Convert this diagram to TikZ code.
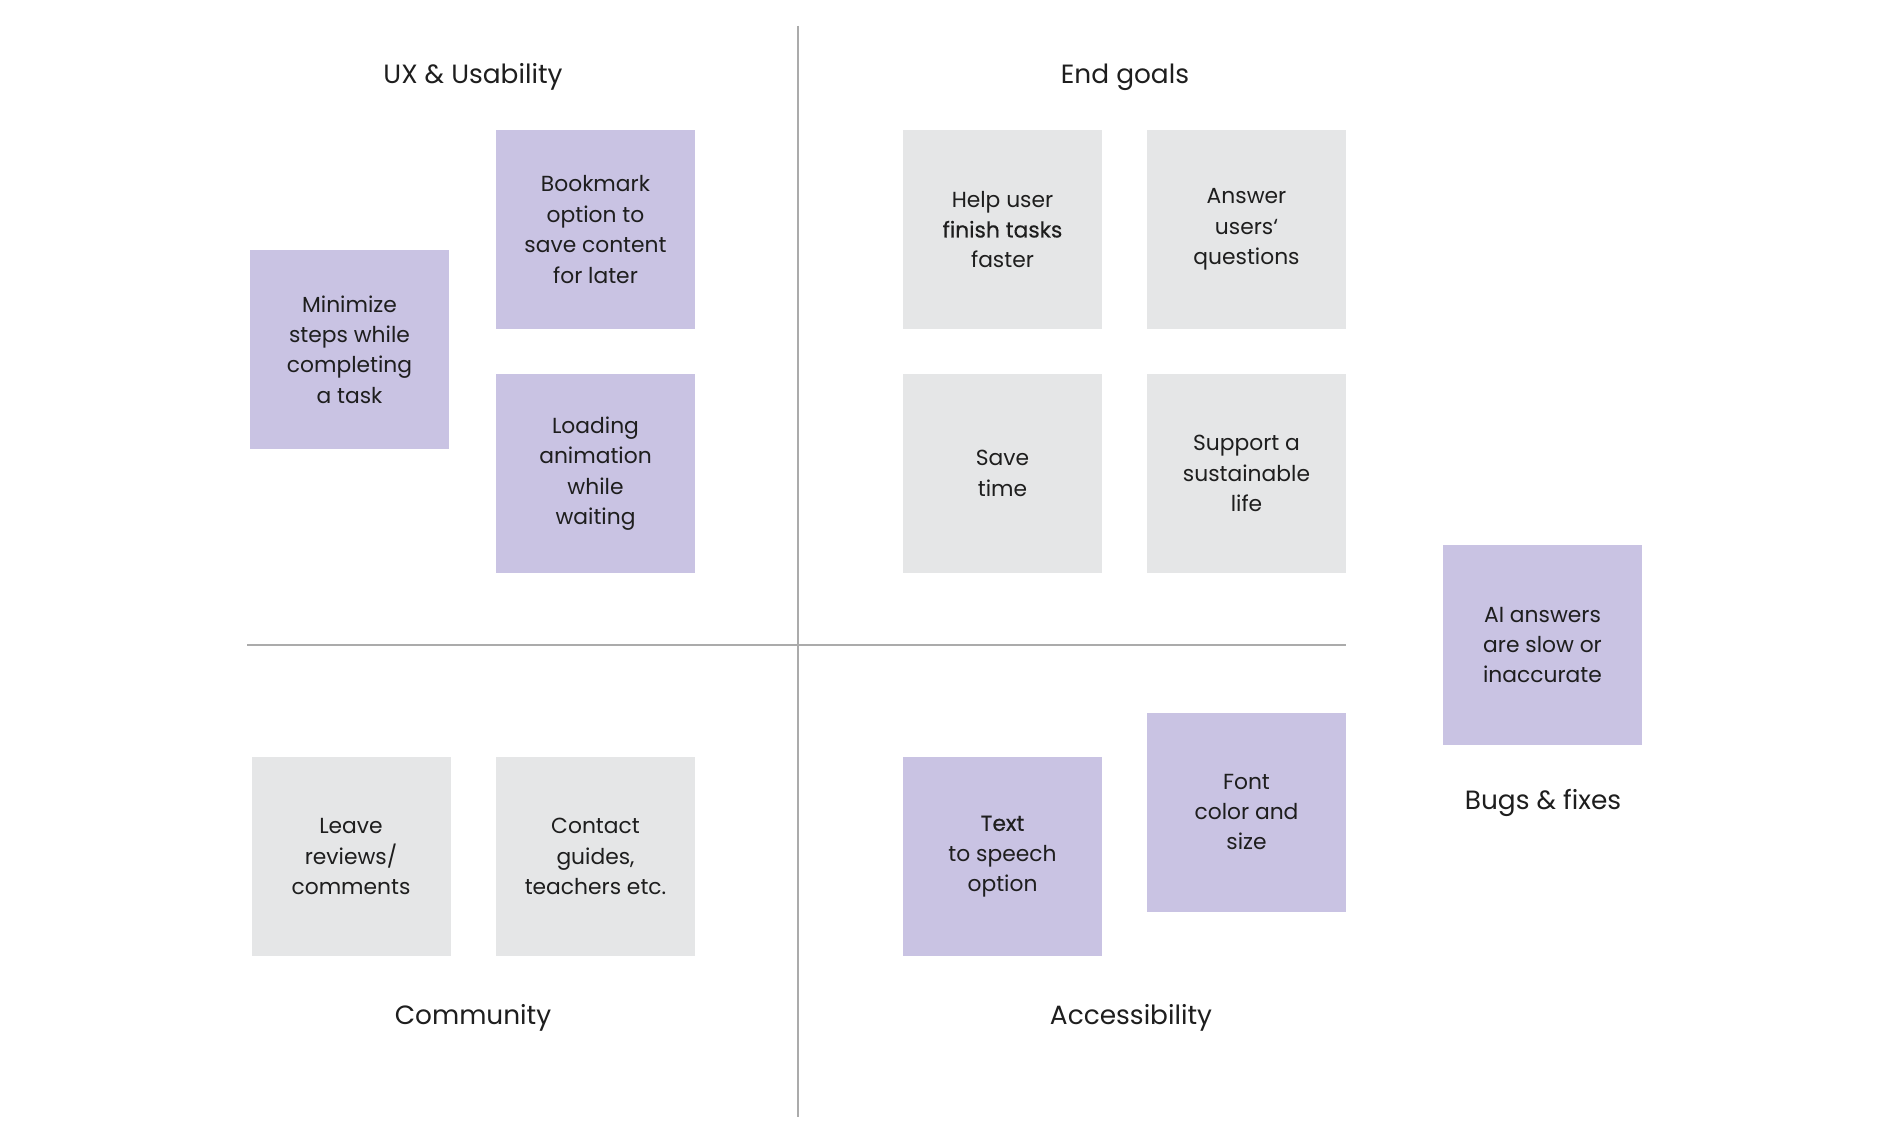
\documentclass[tikz,border=0pt]{standalone}
\usepackage{fontspec}
\setmainfont{Poppins}
\newfontfamily\medfont[FakeBold=0.4]{Poppins}
\definecolor{stickypurple}{HTML}{C9C3E3}
\definecolor{stickygray}{HTML}{E5E6E7}
\definecolor{axisgray}{HTML}{ABABAB}
\definecolor{inktext}{HTML}{1E1E1E}
\begin{document}
\begin{tikzpicture}[x=0.5pt,y=-0.5pt,
  sticky/.style={rectangle,inner sep=0pt,minimum width=99.5pt,minimum height=99.5pt,
    align=center,text=inktext,font=\fontsize{10.9}{15.2}\selectfont},
  purplenote/.style={sticky,fill=stickypurple},
  graynote/.style={sticky,fill=stickygray},
  heading/.style={text=inktext,font=\fontsize{13.2}{15}\selectfont,inner sep=0pt},
  axis/.style={draw=axisgray,line width=1pt}]
\useasboundingbox (0,0) rectangle (1888,1143);
\fill[white] (0,0) rectangle (1888,1143);
% axes
\coordinate (vtop) at (798,26);
\coordinate (vbot) at (798,1117);
\coordinate (hleft) at (247,645);
\coordinate (hright) at (1346,645);
\draw[axis] (vtop) -- (vbot);
\draw[axis] (hleft) -- (hright);
% headings
\node[heading] (uxh) at (473,77) {UX \& Usability};
\node[heading] (endh) at (1125,77) {End goals};
\node[heading] (comh) at (473,1018) {Community};
\node[heading] (acch) at (1131,1018) {Accessibility};
\node[heading] (bugh) at (1543,803) {Bugs \& fixes};
% UX notes
\node[purplenote] (minimize) at (349.5,349.5) {Minimize\\steps while\\completing\\a task};
\node[purplenote] (bookmark) at (595.5,229.5) {Bookmark\\option to\\save content\\for later};
\node[purplenote] (loading) at (595.5,473.5) {Loading\\animation\\while\\waiting};
% End goals notes
\node[graynote] (help) at (1002.5,229.5) {Help user\\{\medfont finish tasks}\\faster};
\node[graynote] (answer) at (1246.5,229.5) {Answer\\users‘\\questions};
\node[graynote] (save) at (1002.5,473.5) {Save\\time};
\node[graynote] (support) at (1246.5,473.5) {Support a\\sustainable\\life};
% Bugs
\node[purplenote] (ai) at (1542.5,645) {AI answers\\are slow or\\inaccurate};
% Community notes
\node[graynote] (leave) at (351,856.5) {Leave\\reviews/\\comments};
\node[graynote] (contact) at (595.5,856.5) {Contact\\guides,\\teachers etc.};
% Accessibility notes
\node[purplenote] (tts) at (1002.5,856.5) {{\medfont Text}\\to speech\\option};
\node[purplenote] (fontnote) at (1246.5,812) {Font\\color and\\size};
\end{tikzpicture}
\end{document}
